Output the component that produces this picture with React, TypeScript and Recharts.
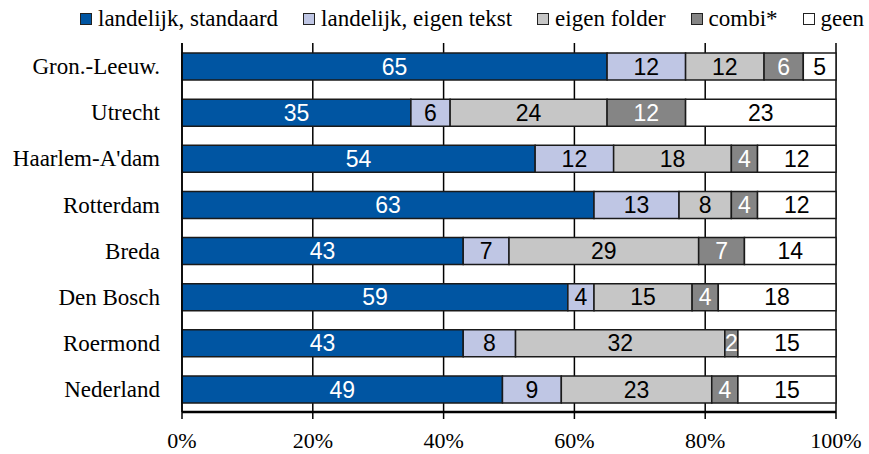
import { BarChart, Bar, XAxis, YAxis, CartesianGrid, LabelList } from "recharts";

const regions = ["Gron.-Leeuw.", "Utrecht", "Haarlem-A'dam", "Rotterdam", "Breda", "Den Bosch", "Roermond", "Nederland"];

const standaard = [65, 35, 54, 63, 43, 59, 43, 49];
const eigenTekst = [12, 6, 12, 13, 7, 4, 8, 9];
const eigenFolder = [12, 24, 18, 8, 29, 15, 32, 23];
const combi = [6, 12, 4, 4, 7, 4, 2, 4];
const geen = [5, 23, 12, 12, 14, 18, 15, 15];

const xTicks = [0, 20, 40, 60, 80, 100];

const series = [
  { key: "standaard", name: "landelijk, standaard", fill: "#0055a2", label: "#ffffff" },
  { key: "eigenTekst", name: "landelijk, eigen tekst", fill: "#bfc6e4", label: "#000000" },
  { key: "eigenFolder", name: "eigen folder", fill: "#c6c6c6", label: "#000000" },
  { key: "combi", name: "combi*", fill: "#858585", label: "#ffffff" },
  { key: "geen", name: "geen", fill: "#ffffff", label: "#000000" },
];

const data = regions.map((region, i) => ({
  region,
  standaard: standaard[i],
  eigenTekst: eigenTekst[i],
  eigenFolder: eigenFolder[i],
  combi: combi[i],
  geen: geen[i],
}));

const SERIF = "Liberation Serif";
const SANS = "Liberation Sans";

const App = () => (
  <div style={{ position: "absolute", left: 0, top: 0, width: 869, height: 454, background: "#fff" }}>
    {/* legend */}
    <div
      style={{
        position: "absolute",
        left: 80,
        top: 6,
        display: "flex",
        alignItems: "center",
        gap: 25,
        fontFamily: SERIF,
        fontSize: 23,
        color: "#000",
        whiteSpace: "nowrap",
      }}
    >
      {series.map((s) => (
        <div key={s.key} style={{ display: "flex", alignItems: "center" }}>
          <span
            style={{
              display: "inline-block",
              width: 10,
              height: 10,
              border: "1.5px solid #222",
              background: s.fill,
              marginRight: 6,
            }}
          />
          {s.name}
        </div>
      ))}
    </div>

    <BarChart
      width={869}
      height={454}
      data={data}
      layout="vertical"
      margin={{ top: 43, right: 33, left: 0, bottom: 0 }}
      barSize={27}
    >
      <CartesianGrid horizontal={false} stroke="#000" strokeWidth={1.5} />
      <XAxis
        type="number"
        domain={[0, 100]}
        ticks={xTicks}
        tickFormatter={(v) => `${v}%`}
        height={42}
        axisLine={{ stroke: "#000", strokeWidth: 2.5 }}
        tickLine={{ stroke: "#000", strokeWidth: 1.5 }}
        tickSize={7}
        tickMargin={13}
        tick={{ fontFamily: SERIF, fontSize: 22, fill: "#000" }}
      />
      <XAxis
        xAxisId="top"
        orientation="top"
        type="number"
        domain={[0, 100]}
        height={0}
        tick={false}
        tickLine={false}
        axisLine={{ stroke: "#000", strokeWidth: 1.5 }}
      />
      <YAxis
        type="category"
        dataKey="region"
        width={182}
        axisLine={{ stroke: "#000", strokeWidth: 1.5 }}
        tickLine={false}
        tickMargin={16}
        tick={{ fontFamily: SERIF, fontSize: 23, fill: "#000" }}
      />
      {series.map((s) => (
        <Bar
          key={s.key}
          dataKey={s.key}
          name={s.name}
          stackId="a"
          fill={s.fill}
          stroke="#1a1a1a"
          strokeWidth={1.5}
          isAnimationActive={false}
        >
          <LabelList
            dataKey={s.key}
            position="center"
            fill={s.label}
            fontFamily={SANS}
            fontSize={23}
          />
        </Bar>
      ))}
    </BarChart>
  </div>
);

export default App;
